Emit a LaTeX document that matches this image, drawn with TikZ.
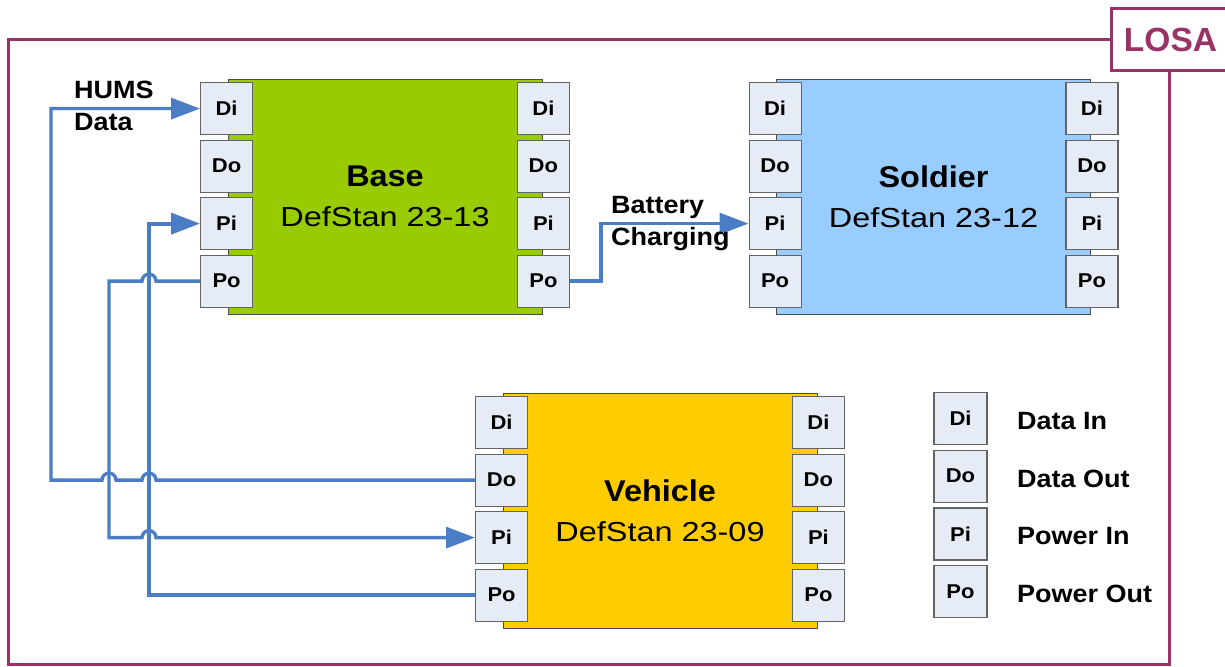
\documentclass[tikz,border=0pt]{standalone}
\usepackage{fontspec}
\setmainfont{Liberation Sans}
\newfontfamily\lbw[FakeStretch=1.08]{Liberation Sans}
\newfontfamily\ttl[FakeStretch=1.18]{Liberation Sans}
\newfontfamily\prt[FakeStretch=1.1]{Liberation Sans}
\usetikzlibrary{arrows.meta,calc}
\definecolor{losac}{RGB}{153,51,102}
\definecolor{wire}{RGB}{74,125,196}
\definecolor{basec}{RGB}{153,204,0}
\definecolor{soldc}{RGB}{153,204,255}
\definecolor{vehc}{RGB}{255,204,0}
\definecolor{portc}{RGB}{230,236,246}
\definecolor{portb}{RGB}{100,100,100}
\begin{document}
\begin{tikzpicture}[x=1pt,y=-1pt,
 unit/.style={draw=black!70, line width=0.8pt, minimum width=314pt, minimum height=235pt, inner sep=0pt, align=center, font=\fontsize{27.5pt}{40pt}\selectfont\ttl},
 port/.style={draw=portb, line width=1.2pt, fill=portc, minimum width=52pt, minimum height=52pt, inner sep=0pt, font=\fontsize{20pt}{22pt}\selectfont\prt\bfseries},
 lbl/.style={font=\fontsize{25pt}{32pt}\selectfont\lbw\bfseries, align=left, inner sep=0pt},
 conn/.style={draw=wire, line width=3.3pt},
 arr/.style={conn, -{Triangle[length=29pt,width=21pt]}},
]
\useasboundingbox (0,0) rectangle (1225,666);
% frame
\draw[losac, line width=3pt] (8,40) rectangle (1169,664);
\node[draw=losac, line width=3pt, fill=white, text=losac, font=\fontsize{33.5pt}{36pt}\selectfont\bfseries, minimum width=118pt, minimum height=62pt, anchor=west, inner sep=0pt] (losa) at (1110,39.5) {LOSA};
% units
\node[unit, fill=basec] (base) at (385,196.5) {{\fontsize{30pt}{40pt}\selectfont\lbw\bfseries Base}\\DefStan 23-13};
\node[unit, fill=soldc] (soldier) at (933.5,196.5) {{\fontsize{30pt}{40pt}\selectfont\lbw\bfseries Soldier}\\DefStan 23-12};
\node[unit, fill=vehc] (vehicle) at (660,510.5) {{\fontsize{30pt}{40pt}\selectfont\lbw\bfseries Vehicle}\\DefStan 23-09};
% ports
\foreach \p [count=\i from 0] in {Di,Do,Pi,Po} {
  \node[port] (bL\p) at ($(base.north west)+(-1,30+57.5*\i)$) {\p};
  \node[port] (bR\p) at ($(base.north east)+(1,30+57.5*\i)$) {\p};
  \node[port] (sL\p) at ($(soldier.north west)+(-1,30+57.5*\i)$) {\p};
  \node[port] (sR\p) at ($(soldier.north east)+(1,30+57.5*\i)$) {\p};
  \node[port] (vL\p) at ($(vehicle.north west)+(-1,30+57.5*\i)$) {\p};
  \node[port] (vR\p) at ($(vehicle.north east)+(1,30+57.5*\i)$) {\p};
}
% legend
\foreach \p/\t [count=\i from 0] in {Di/Data In, Do/Data Out, Pi/Power In, Po/Power Out} {
  \node[port, minimum width=53pt] (lg\p) at (960.5,418.5+57.7*\i) {\p};
  \node[lbl, anchor=west] (lt\p) at (1017,421+57.7*\i) {\t};
}
% wiring columns
\coordinate (xA) at (51,0);
\coordinate (xB) at (109,0);
\coordinate (xC) at (149,0);
\coordinate (xD) at (601,0);
% connectors
\draw[arr] (vLDo.west) -- ($(xC|-vLDo.west)+(7,0)$) arc[start angle=0,end angle=180,radius=7pt]
  -- ($(xB|-vLDo.west)+(7,0)$) arc[start angle=0,end angle=180,radius=7pt]
  -- (xA|-vLDo.west) -- (xA|-bLDi.west) -- (bLDi.west);
\draw[arr] (bLPo.west) -- ($(xC|-bLPo.west)+(7,0)$) arc[start angle=0,end angle=180,radius=7pt]
  -- (xB|-bLPo.west) -- (xB|-vLPi.west)
  -- ($(xC|-vLPi.west)+(-7,0)$) arc[start angle=180,end angle=0,radius=7pt] -- (vLPi.west);
\draw[arr, line width=4pt] (vLPo.west) -- (xC|-vLPo.west) -- (xC|-bLPi.west) -- (bLPi.west);
\draw[arr] (bRPo.east) -- (xD|-bRPo.east) -- (xD|-sLPi.west) -- (sLPi.west);
% labels
\node[lbl, anchor=west] (hums) at (74,106) {HUMS\\Data};
\node[lbl, anchor=west] (batt) at (611,224) {Battery\\Charging};
\end{tikzpicture}
\end{document}
